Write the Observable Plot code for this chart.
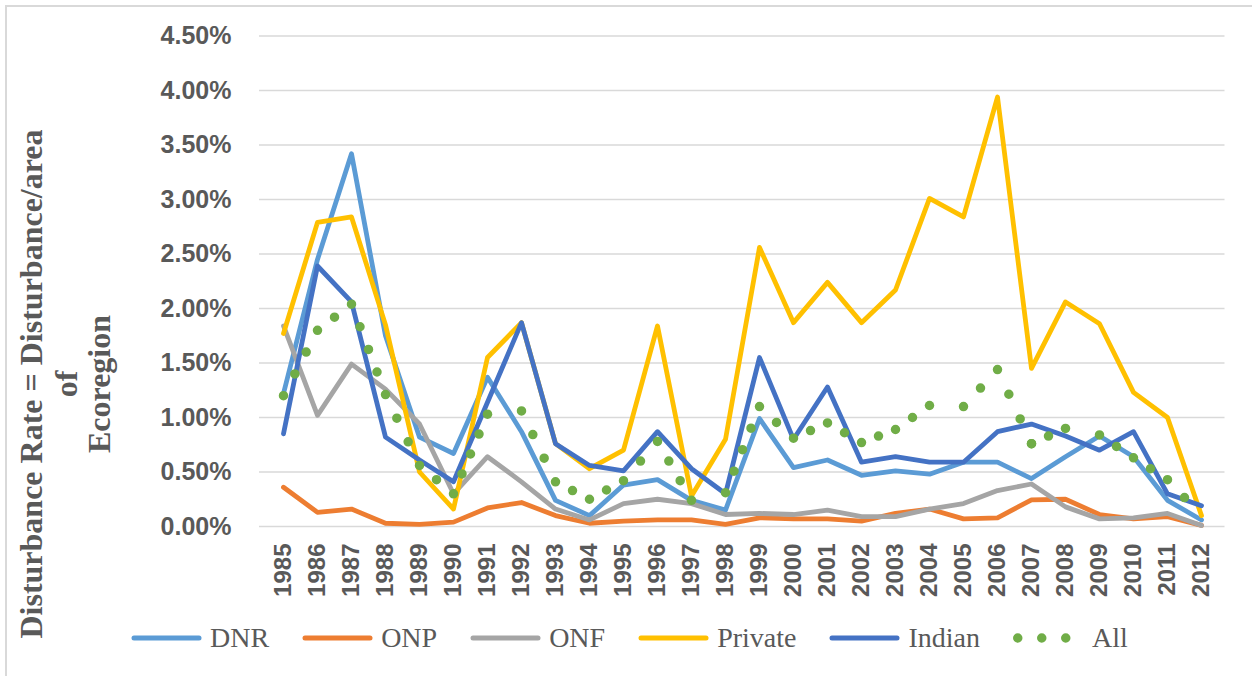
<!DOCTYPE html>
<html><head><meta charset="utf-8">
<script src="https://cdn.jsdelivr.net/npm/d3@7"></script>
<script src="https://cdn.jsdelivr.net/npm/@observablehq/plot@0.6"></script>
<style>
body{margin:0;background:#fff;}
#wrap{position:relative;width:1252px;height:676px;overflow:hidden;background:#fff;}
#frame{position:absolute;left:5px;top:5px;width:1300px;height:700px;border-left:2px solid #d9d9d9;border-top:2px solid #d9d9d9;box-sizing:border-box;pointer-events:none;}
#chart{position:absolute;left:0;top:0;}
#title{position:absolute;left:0;top:0;}
#legend{position:absolute;left:0;top:600px;width:1252px;height:76px;display:flex;align-items:center;padding-left:131px;box-sizing:border-box;font-family:"Liberation Serif","Times New Roman",serif;font-size:28px;color:#595959;}
.item{display:flex;align-items:center;margin-right:33px;}
.item svg{display:block;margin-right:8px;}
</style>
</head><body>
<div id="wrap"><div id="frame"></div><div id="chart"></div><svg id="title" width="150" height="676"></svg><div id="legend"></div></div>
<script>
const years = [1985,1986,1987,1988,1989,1990,1991,1992,1993,1994,1995,1996,1997,1998,1999,2000,2001,2002,2003,2004,2005,2006,2007,2008,2009,2010,2011,2012];
const dnr     = [1.22,2.45,3.42,1.75,0.82,0.67,1.37,0.87,0.24,0.10,0.38,0.43,0.24,0.15,0.99,0.54,0.61,0.47,0.51,0.48,0.59,0.59,0.44,0.64,0.83,0.64,0.24,0.06];
const onp     = [0.36,0.13,0.16,0.03,0.02,0.04,0.17,0.22,0.10,0.03,0.05,0.06,0.06,0.02,0.08,0.07,0.07,0.05,0.12,0.16,0.07,0.08,0.245,0.25,0.11,0.07,0.09,0.01];
const onf     = [1.84,1.02,1.49,1.26,0.94,0.30,0.64,0.41,0.16,0.06,0.21,0.25,0.21,0.11,0.12,0.11,0.15,0.09,0.09,0.16,0.21,0.33,0.39,0.18,0.07,0.08,0.12,0.01];
const priv    = [1.77,2.79,2.84,1.85,0.50,0.16,1.55,1.87,0.76,0.53,0.70,1.84,0.28,0.80,2.56,1.87,2.24,1.87,2.17,3.01,2.84,3.94,1.45,2.06,1.86,1.23,1.00,0.10];
const indian  = [0.85,2.39,2.06,0.82,0.61,0.41,1.14,1.87,0.76,0.56,0.51,0.87,0.53,0.30,1.55,0.80,1.28,0.59,0.64,0.59,0.59,0.87,0.94,0.83,0.70,0.87,0.30,0.19];
const all     = [1.20,1.80,2.04,1.21,0.56,0.30,1.03,1.06,0.41,0.25,0.42,0.78,0.24,0.31,1.10,0.81,0.95,0.77,0.89,1.11,1.10,1.44,0.76,0.90,0.84,0.63,0.43,0.10];
const seriesNames  = ["DNR","ONP","ONF","Private","Indian","All"];
const seriesColors = ["#5B9BD5","#ED7D31","#A5A5A5","#FFC000","#4472C4","#70AD47"];
const yTicks = [0,0.5,1.0,1.5,2.0,2.5,3.0,3.5,4.0,4.5];
const titleLines = ["Disturbance Rate = Disturbance/area","of","Ecoregion"];

const lineSeries = [dnr, onp, onf, priv, indian];
const toRows = vals => years.map((y,i)=>({year:y, value:vals[i]}));

// "All" drawn segment by segment so that each year gets a dot (as in the spreadsheet rendering)
const allSegs = [];
for (let i=0;i<years.length-1;i++){
  allSegs.push({year:years[i], value:all[i], seg:i},{year:years[i+1], value:all[i+1], seg:i});
}

const lineMarks = lineSeries.map((vals,k)=>Plot.line(toRows(vals),{x:"year",y:"value",stroke:seriesColors[k],strokeWidth:4.8,strokeLinejoin:"round",strokeLinecap:"round"}));

const plot = Plot.plot({
  width:1252, height:600,
  marginLeft:259, marginRight:27.5, marginTop:35.5, marginBottom:74,
  x:{type:"point", domain:years, padding:0.5},
  y:{domain:[0,4.5]},
  style:{fontFamily:"'Liberation Sans', Arial, sans-serif", background:"transparent", overflow:"visible"},
  marks:[
    Plot.gridY(yTicks,{stroke:"#d9d9d9", strokeOpacity:1, strokeWidth:1.5}),
    Plot.axisY(yTicks,{tickSize:0, tickPadding:28, tickFormat:d=>d.toFixed(2)+"%", fontSize:25, fontWeight:"bold", color:"#595959", label:null}),
    Plot.axisX({tickSize:0, tickRotate:-90, tickPadding:17, tickFormat:d=>String(d), fontSize:24, fontWeight:"bold", color:"#595959", label:null}),
    ...lineMarks,
    Plot.line(allSegs,{x:"year",y:"value",z:"seg",stroke:seriesColors[5],strokeWidth:9.5,strokeDasharray:"0 24",strokeLinecap:"round"})
  ]
});
document.getElementById("chart").appendChild(plot);

// fit the dot spacing to each segment (dot at both ends, ~24px apart)
const lineGroups = plot.querySelectorAll('g[aria-label="line"]');
const allGroup = lineGroups[lineGroups.length-1];
allGroup.querySelectorAll("path").forEach(p=>{
  const L = p.getTotalLength();
  const n = Math.max(1, Math.round(L/24));
  p.setAttribute("pathLength", n);
  p.setAttribute("stroke-dasharray", "0 1");
});

// y-axis title
const tsvg = d3.select("#title");
const baselines = [41.7, 76.7, 110];
titleLines.forEach((t,i)=>{
  tsvg.append("text")
    .attr("transform",`translate(${baselines[i]},384) rotate(-90)`)
    .attr("text-anchor","middle")
    .attr("font-family","'Liberation Serif','Times New Roman',serif")
    .attr("font-weight","bold")
    .attr("font-size",32)
    .attr("fill","#595959")
    .text(t);
});

// legend
const leg = d3.select("#legend");
seriesNames.forEach((n,k)=>{
  const it = leg.append("div").attr("class","item");
  const s = it.append("svg").attr("width",71).attr("height",14);
  if (n==="All") {
    s.append("line").attr("x1",4.75).attr("x2",66).attr("y1",7).attr("y2",7)
      .attr("stroke",seriesColors[k]).attr("stroke-width",9.5).attr("stroke-dasharray","0 24").attr("stroke-linecap","round");
  } else {
    s.append("line").attr("x1",3).attr("x2",68).attr("y1",7).attr("y2",7)
      .attr("stroke",seriesColors[k]).attr("stroke-width",5).attr("stroke-linecap","round");
  }
  it.append("span").text(n);
});
</script>
</body></html>
